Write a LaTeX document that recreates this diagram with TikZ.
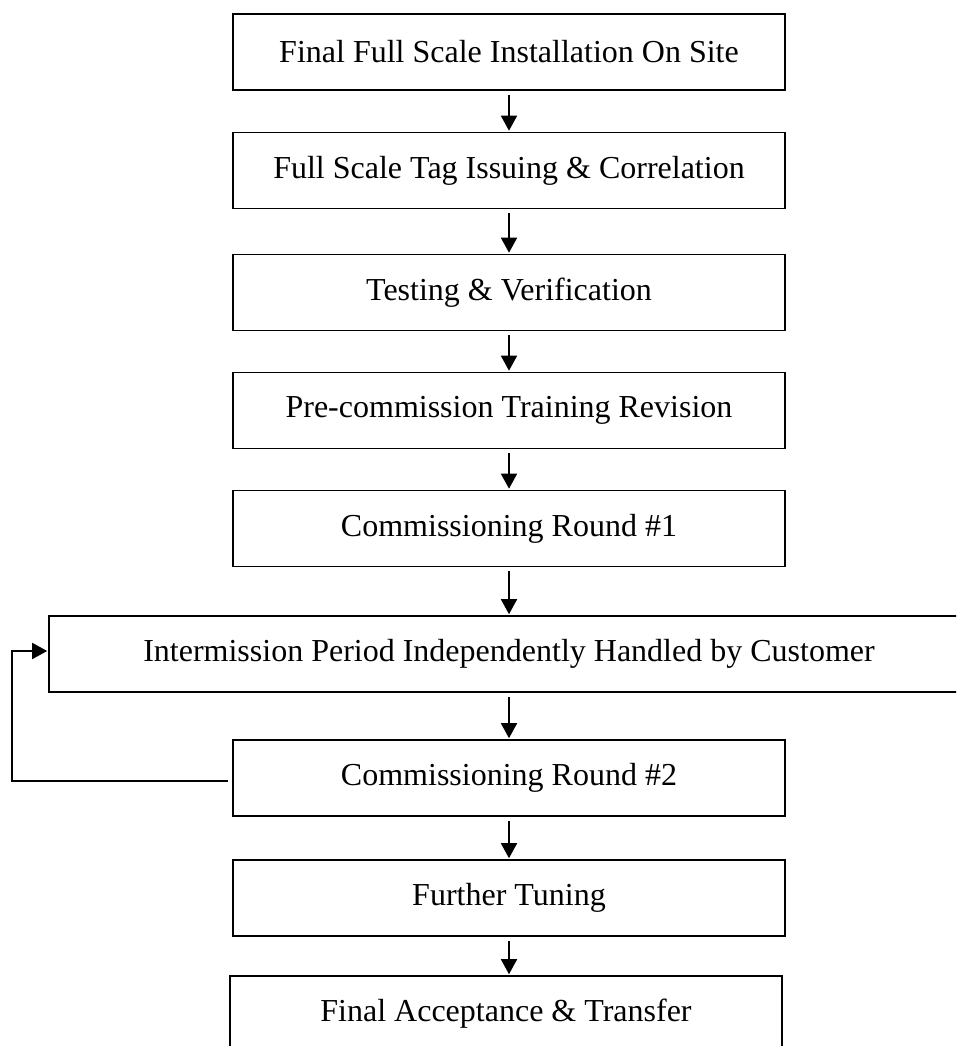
\documentclass[tikz,border=0pt]{standalone}
\usepackage{fontspec}
\setmainfont{Liberation Serif}
\usetikzlibrary{arrows.meta}

\tikzset{
  stepbox/.style={draw=black, line width=1.6pt, rectangle, minimum width=552, minimum height=76,
    inner sep=0pt, align=center, font=\fontsize{32}{38}\selectfont},
  widebox/.style={stepbox, minimum width=920},
  flow/.style={draw=black, line width=1.6pt, -{Triangle[length=15pt,width=16pt]}}
}

\begin{document}
\begin{tikzpicture}[x=1pt,y=-1pt]
  \useasboundingbox (0,0) rectangle (956,1046);
  \clip (0,0) rectangle (956,1046);

  % process steps
  \node[stepbox] (s1) at (509,52)    {Final Full Scale Installation On Site};
  \node[stepbox] (s2) at (509,170.5) {Full Scale Tag Issuing \& Correlation};
  \node[stepbox] (s3) at (509,292.5) {Testing \& Verification};
  \node[stepbox] (s4) at (509,410.5) {Pre-commission Training Revision};
  \node[stepbox] (s5) at (509,528.5) {Commissioning Round \#1};
  \node[widebox] (s6) at (509,654)   {Intermission Period Independently Handled by Customer};
  \node[stepbox] (s7) at (509,778)   {Commissioning Round \#2};
  \node[stepbox] (s8) at (509,898)   {Further Tuning};
  \node[stepbox] (s9) at (506,1014)  {Final Acceptance \& Transfer};

  % downward connectors
  \foreach \a/\b in {s1/s2, s2/s3, s3/s4, s4/s5, s5/s6, s6/s7, s7/s8, s8/s9}
    \draw[flow, shorten <=4pt, shorten >=1pt] (\a.south) -- (\a.south |- \b.north);

  % feedback loop from round 2 back to the intermission period
  \coordinate (loopx) at (12,0);
  \draw[flow, shorten <=4pt, shorten >=1pt]
    ([yshift=-3pt]s7.west) -- ([yshift=-3pt]s7.west -| loopx)
    |- ([yshift=3pt]s6.west);
\end{tikzpicture}
\end{document}
